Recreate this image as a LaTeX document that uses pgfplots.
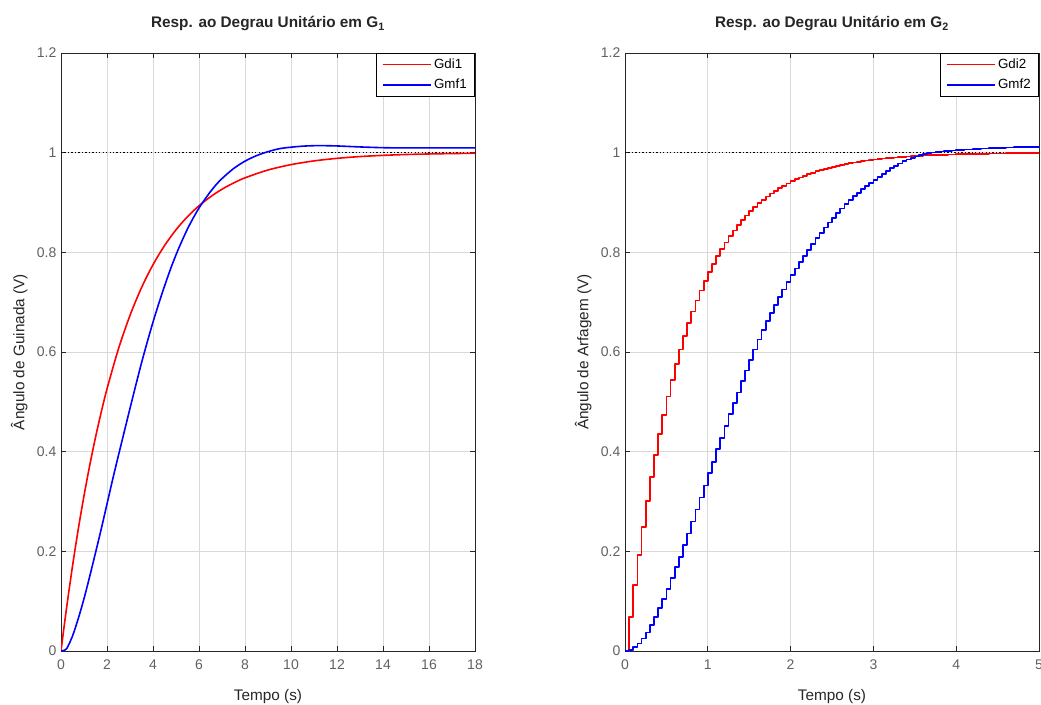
\documentclass[border=0pt]{standalone}
\usepackage{pgfplots}
\pgfplotsset{compat=1.18}
\usepackage{pgfplotstable}
\usepackage{fontspec}
\setmainfont{Liberation Sans}
\definecolor{axgray}{rgb}{0.15,0.15,0.15}
\definecolor{tkgray}{rgb}{0.38,0.38,0.38}
\definecolor{mred}{rgb}{1,0,0}
\definecolor{mblue}{rgb}{0,0,1}

\pgfplotstableread{
t v
0 0
0.1 0.0366
0.25 0.0891
0.5 0.1702
0.75 0.2442
1 0.3114
1.25 0.3727
1.5 0.4286
1.75 0.4795
2 0.5259
2.5 0.6066
3 0.6735
3.5 0.7291
4 0.7752
4.5 0.8134
5 0.8452
5.5 0.8716
6 0.8934
6.5 0.9115
7 0.9266
7.5 0.9391
8 0.9495
9 0.9652
10 0.9760
11 0.9835
12 0.9886
13 0.9922
14 0.9946
15 0.9963
16 0.9974
17 0.9982
18 0.9988
}\gdione

\pgfplotstableread{
t v
0 0
0.1 0.001
0.25 0.005
0.5 0.03
0.75 0.065
1 0.105
1.25 0.15
1.5 0.197
1.75 0.245
2 0.295
2.25 0.345
2.5 0.393
2.75 0.44
3 0.487
3.25 0.533
3.5 0.578
3.75 0.62
4 0.66
4.25 0.697
4.5 0.732
4.75 0.765
5 0.795
5.25 0.822
5.5 0.847
5.75 0.869
6 0.889
6.25 0.906
6.5 0.922
6.75 0.936
7 0.948
7.5 0.968
8 0.983
8.5 0.994
9 1.002
9.5 1.008
10 1.011
10.5 1.013
11 1.014
11.5 1.014
12 1.0135
13 1.0115
14 1.010
15 1.0095
16 1.0095
17 1.0095
18 1.0095
}\gmfone

\pgfplotstableread{
t gdi gmf
0.00 0 0
0.05 0.0689 0.002
0.10 0.1331 0.0074
0.15 0.1929 0.015
0.20 0.2485 0.025
0.25 0.3003 0.037
0.30 0.3486 0.052
0.35 0.3935 0.068
0.40 0.4353 0.086
0.45 0.4742 0.104
0.50 0.5105 0.124
0.55 0.5442 0.146
0.60 0.5756 0.168
0.65 0.6049 0.189
0.70 0.6321 0.213
0.75 0.6575 0.236
0.80 0.6811 0.260
0.85 0.7031 0.284
0.90 0.7235 0.308
0.95 0.7426 0.332
1.00 0.7603 0.357
1.05 0.7769 0.380
1.10 0.7923 0.405
1.15 0.8066 0.428
1.20 0.8199 0.452
1.25 0.8323 0.475
1.30 0.8439 0.497
1.35 0.8546 0.519
1.40 0.8647 0.542
1.45 0.8740 0.563
1.50 0.8827 0.584
1.55 0.8908 0.605
1.60 0.8983 0.625
1.65 0.9053 0.644
1.70 0.9118 0.662
1.75 0.9179 0.679
1.80 0.9236 0.695
1.85 0.9288 0.7105
1.90 0.9337 0.7255
1.95 0.9383 0.740
2.00 0.9426 0.754
2.05 0.9465 0.7675
2.10 0.9502 0.7805
2.15 0.9536 0.793
2.20 0.9568 0.805
2.25 0.9598 0.8168
2.30 0.9626 0.8282
2.35 0.9652 0.8392
2.40 0.9676 0.8497
2.45 0.9698 0.8597
2.50 0.9719 0.8694
2.55 0.9738 0.8788
2.60 0.9756 0.8878
2.65 0.9773 0.8964
2.70 0.9789 0.9046
2.75 0.9803 0.9124
2.80 0.9817 0.9198
2.85 0.9829 0.9268
2.90 0.9841 0.9335
2.95 0.9852 0.9398
3.00 0.9862 0.9458
3.05 0.9872 0.9518
3.10 0.9881 0.9576
3.15 0.9889 0.9632
3.20 0.9897 0.9686
3.25 0.9904 0.9737
3.30 0.9910 0.9784
3.35 0.9917 0.9826
3.40 0.9922 0.9863
3.45 0.9928 0.9896
3.50 0.9933 0.9925
3.55 0.9937 0.9950
3.60 0.9942 0.9971
3.65 0.9946 0.9988
3.70 0.9949 1.0002
3.75 0.9953 1.0013
3.80 0.9956 1.0022
3.85 0.9959 1.0030
3.90 0.9962 1.0037
3.95 0.9965 1.0043
4.00 0.9967 1.0049
4.05 0.9969 1.0055
4.10 0.9971 1.0061
4.15 0.9973 1.0066
4.20 0.9975 1.0071
4.25 0.9977 1.0076
4.30 0.9979 1.0081
4.35 0.9980 1.0085
4.40 0.9981 1.0089
4.45 0.9983 1.0093
4.50 0.9984 1.0097
4.55 0.9985 1.0100
4.60 0.9986 1.0103
4.65 0.9987 1.0106
4.70 0.9988 1.0109
4.75 0.9989 1.0111
4.80 0.9989 1.0113
4.85 0.9990 1.0115
4.90 0.9991 1.0116
4.95 0.9992 1.0117
5.00 0.9992 1.0118
}\gtwo

\pgfplotsset{
  mstyle/.style={
    scale only axis,
    width=310.5pt, height=448.5pt,
    ymin=0, ymax=1.2,
    ytick={0,0.2,0.4,0.6,0.8,1,1.2},
    grid=major,
    grid style={black!15, line width=0.5pt},
    axis line style={axgray, line width=0.6pt},
    tick style={axgray, line width=0.5pt},
    tick align=inside,
    major tick length=3.5pt,
    /pgf/number format/assume math mode=true,
    ticklabel style={font=\fontsize{10.5}{12}\selectfont, text=tkgray},
    xticklabel style={yshift=-3pt},
    label style={font=\fontsize{11.5}{13}\selectfont, text=black!85},
    xlabel style={yshift=-8pt},
    title style={font=\bfseries\fontsize{11.5}{13}\selectfont, text=black!85, yshift=7pt},
    xlabel={Tempo (s)},
    legend style={at={(1,1)}, anchor=north east, draw=black, line width=0.5pt,
      font=\fontsize{10}{12}\selectfont, inner xsep=4pt, inner ysep=2pt,
      row sep=2.5pt, legend cell align=left},
    legend image code/.code={\draw[#1, line width=1.2pt] (0pt,0pt) -- (36pt,0pt);},
  }
}

\begin{document}
\begin{tikzpicture}
\path[use as bounding box] (-45.75pt,-39.75pt) rectangle (735pt,488.25pt);
\begin{axis}[mstyle,
  xmin=0, xmax=18, xtick={0,2,...,18},
  title={Resp. ao Degrau Unitário em G\textsubscript{1}},
  ylabel={Ângulo de Guinada (V)},
]
\addplot[black, dash pattern=on 1pt off 1.6pt, line width=1pt, forget plot] coordinates {(0,1) (18,1)};
\addplot[mred, line width=1.2pt, smooth] table[x=t, y=v] {\gdione};
\addlegendentry{Gdi1}
\addplot[mblue, line width=1.2pt, smooth] table[x=t, y=v] {\gmfone};
\addlegendentry{Gmf1}
\end{axis}
\begin{axis}[mstyle, at={(423pt,0pt)},
  xmin=0, xmax=5, xtick={0,1,2,3,4,5},
  title={Resp. ao Degrau Unitário em G\textsubscript{2}},
  ylabel={Ângulo de Arfagem (V)},
]
\addplot[black, dash pattern=on 1pt off 1.6pt, line width=1pt, forget plot] coordinates {(0,1) (5,1)};
\addplot[mred, line width=1.3pt, line join=round, const plot] table[x=t, y=gdi] {\gtwo};
\addlegendentry{Gdi2}
\addplot[mblue, line width=1.3pt, line join=round, const plot] table[x=t, y=gmf] {\gtwo};
\addlegendentry{Gmf2}
\end{axis}
\end{tikzpicture}
\end{document}
